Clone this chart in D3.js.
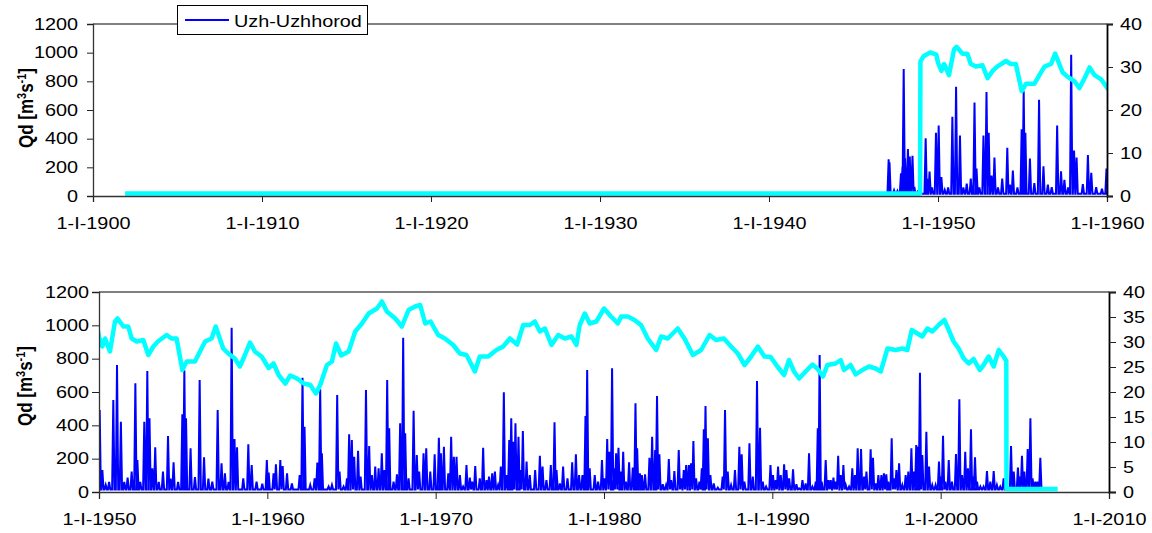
<!DOCTYPE html>
<html>
<head>
<meta charset="utf-8">
<script src="https://cdn.jsdelivr.net/npm/d3@7/dist/d3.min.js"></script>
<style>
  body { margin: 0; background: #fff; }
  svg text { font-family: "Liberation Sans", Arial, sans-serif; fill: #000; }
</style>
</head>
<body>
<svg id="chart" width="1152" height="533"></svg>
<script>
// daily discharge peaks: [decimal year, Qd m3/s]
let flow1940s = [[1947.08,256],[1947.13,235],[1947.4,40],[1947.6,35],[1947.81,159],[1947.9,205],[1947.97,886],
  [1948.05,263],[1948.22,328],[1948.28,205],[1948.33,275],[1948.49,280],[1948.6,63],[1948.8,30],
  [1949.27,403],[1949.35,120],[1949.5,170],[1949.65,60],[1949.88,442]];
let flow1950s = [[1950.04,492],[1950.2,132],[1950.4,42],[1950.6,60],[1950.85,552],[1951.07,762],[1951.3,422],
  [1951.5,60],[1951.7,86],[1951.94,122],[1952.16,652],[1952.28,192],[1952.45,60],[1952.69,422],[1952.87,726],
  [1953.0,442],[1953.17,142],[1953.34,268],[1953.55,60],[1953.8,122],[1954.1,336],[1954.25,80],[1954.43,178],
  [1954.7,60],[1954.95,466],[1955.07,730],[1955.17,442],[1955.44,262],[1955.7,90],[1955.98,672],[1956.24,208],
  [1956.5,80],[1956.73,62],[1957.05,492],[1957.28,172],[1957.48,112],[1957.7,60],[1957.88,986],[1958.05,318],
  [1958.2,268],[1958.57,82],[1958.87,286],[1959.07,162],[1959.36,62],[1959.7,50],[1959.97,192]];
let flow1960s = [[1960.08,116],[1960.37,112],[1960.51,166],[1960.77,192],[1960.91,156],[1961.17,112],[1961.46,52],
  [1961.92,102],[1962.09,686],[1962.21,392],[1962.55,42],[1962.81,82],[1962.97,176],[1963.14,616],[1963.24,232],
  [1963.64,32],[1963.84,42],[1964.15,582],[1964.29,122],[1964.53,32],[1964.73,82],[1964.86,346],[1965.02,312],
  [1965.16,212],[1965.39,248],[1965.54,92],[1965.86,612],[1966.05,276],[1966.21,102],[1966.41,152],[1966.61,142],
  [1966.8,232],[1966.96,132],[1967.12,672],[1967.24,382],[1967.5,62],[1967.7,106],[1967.89,412],[1968.07,926],
  [1968.19,352],[1968.39,82],[1968.69,488],[1968.88,222],[1969.02,122],[1969.28,232],[1969.44,262],[1969.68,122],
  [1969.94,226]];
let flow1970s = [[1970.19,326],[1970.31,232],[1970.49,272],[1970.75,112],[1970.92,332],[1971.08,212],[1971.24,212],
  [1971.44,102],[1971.63,32],[1971.83,162],[1972.03,86],[1972.17,62],[1972.35,156],[1972.62,82],[1972.82,266],
  [1973.02,72],[1973.17,92],[1973.36,112],[1973.52,122],[1973.71,42],[1973.87,152],[1974.05,598],[1974.21,102],
  [1974.37,312],[1974.49,442],[1974.6,302],[1974.74,412],[1974.92,332],[1975.04,132],[1975.18,366],[1975.4,182],
  [1975.59,102],[1975.91,132],[1976.19,218],[1976.35,152],[1976.58,72],[1976.84,162],[1977.06,418],[1977.18,132],
  [1977.38,52],[1977.57,152],[1977.83,82],[1978.11,178],[1978.33,226],[1978.52,102],[1978.72,102],[1978.9,456],
  [1979.0,732],[1979.15,142],[1979.45,102],[1979.65,62],[1979.88,192]];
let flow1980s = [[1980.03,82],[1980.19,318],[1980.33,242],[1980.48,742],[1980.58,142],[1980.72,232],[1980.86,266],
  [1980.98,122],[1981.14,242],[1981.3,62],[1981.49,178],[1981.71,146],[1981.87,532],[1981.97,262],[1982.13,112],
  [1982.25,102],[1982.44,106],[1982.7,206],[1982.86,332],[1983.04,252],[1983.15,576],[1983.29,226],[1983.49,46],
  [1983.69,42],[1983.85,198],[1983.99,72],[1984.18,126],[1984.44,252],[1984.58,82],[1984.74,132],[1984.88,162],
  [1985.04,162],[1985.17,172],[1985.31,306],[1985.47,82],[1985.67,62],[1985.81,142],[1985.93,376],[1986.03,516],
  [1986.17,322],[1986.32,102],[1986.52,52],[1986.76,26],[1987.05,92],[1987.19,492],[1987.35,122],[1987.55,42],
  [1987.78,132],[1988.04,272],[1988.18,226],[1988.34,62],[1988.64,292],[1988.84,92],[1989.09,666],[1989.27,386],
  [1989.43,62],[1989.63,32],[1989.89,162]];
let flow1990s = [[1990.04,102],[1990.2,72],[1990.34,152],[1990.5,102],[1990.7,166],[1990.84,132],[1991.0,82],
  [1991.23,136],[1991.43,46],[1991.59,22],[1991.79,72],[1991.98,52],[1992.18,232],[1992.38,32],[1992.58,62],
  [1992.7,382],[1992.81,822],[1992.93,62],[1993.17,192],[1993.33,72],[1993.47,72],[1993.63,86],[1993.77,62],
  [1993.91,218],[1994.06,102],[1994.22,162],[1994.36,42],[1994.56,32],[1994.75,142],[1994.91,102],[1995.07,262],
  [1995.27,258],[1995.45,92],[1995.59,122],[1995.84,256],[1995.98,206],[1996.14,52],[1996.3,102],[1996.48,102],
  [1996.63,112],[1996.77,106],[1996.89,62],[1997.09,322],[1997.23,82],[1997.37,132],[1997.53,172],[1997.72,42],
  [1997.92,102],[1998.08,122],[1998.26,262],[1998.42,122],[1998.55,282],[1998.67,272],[1998.77,716],[1998.91,222],
  [1999.15,362],[1999.31,152],[1999.5,42],[1999.7,42],[1999.9,182]];
let flow2000s = [[2000.02,92],[2000.14,338],[2000.28,62],[2000.48,192],[2000.67,62],[2000.91,228],[2001.11,556],
  [2001.27,102],[2001.46,242],[2001.62,142],[2001.8,376],[2001.92,92],[2002.04,208],[2002.16,62],[2002.36,32],
  [2002.55,32],[2002.75,126],[2002.95,62],[2003.15,126],[2003.34,42],[2003.54,32],[2003.74,82],[2004.18,276],
  [2004.34,122],[2004.59,146],[2004.69,92],[2004.83,218],[2004.97,122],[2005.17,258],[2005.33,442],[2005.46,82],
  [2005.62,62],[2005.76,62],[2005.92,206]];

// smoothed series on the right axis: [decimal year, value]
let smoothEarly = [[1901.9,0.6],[1948.94,0.6],[1948.96,31.3],[1949.15,32.5],[1949.54,33.4],[1949.9,32.9]];
let smooth1950s = [[1950.0,31.0],[1950.2,29.1],[1950.36,30.7],[1950.65,28.1],[1950.95,34.1],[1951.1,34.7],
  [1951.45,33.1],[1951.74,33.1],[1951.94,30.7],[1952.24,30.1],[1952.63,30.4],[1952.93,27.4],[1953.23,29.1],
  [1953.5,30.1],[1954.02,31.4],[1954.3,30.7],[1954.61,30.7],[1954.95,24.4],[1955.21,26.1],[1955.7,26.1],
  [1956.0,28.1],[1956.3,30.1],[1956.69,30.7],[1956.93,33.1],[1957.38,28.7],[1957.68,27.7],[1958.07,26.7],
  [1958.37,25.1],[1958.67,27.4],[1958.97,29.9],[1959.26,28.1],[1959.66,27.1]];
let smooth1960s = [[1960.08,24.8],[1960.37,25.7],[1960.67,23.4],[1961.07,21.7],[1961.36,23.3],[1961.76,22.7],
  [1962.16,21.7],[1962.55,21.4],[1962.89,19.7],[1963.14,21.4],[1963.54,25.4],[1963.84,26.1],[1964.08,29.7],
  [1964.39,27.3],[1964.83,28.1],[1965.22,32.1],[1965.62,33.7],[1966.02,35.7],[1966.51,36.7],[1966.81,38.1],
  [1967.1,36.1],[1967.6,34.7],[1967.99,33.1],[1968.39,36.4],[1968.78,37.1],[1969.08,37.4],[1969.38,33.7],
  [1969.7,34.1]];
let smooth1970s = [[1970.15,31.4],[1970.55,30.7],[1971.04,29.4],[1971.44,27.7],[1971.83,27.4],[1972.33,24.1],
  [1972.62,27.1],[1973.12,27.1],[1973.61,28.4],[1974.01,29.1],[1974.41,30.7],[1974.84,29.5],[1975.2,33.4],
  [1975.6,33.4],[1975.89,34.1],[1976.19,32.1],[1976.49,32.7],[1976.88,29.4],[1977.28,31.4],[1977.67,30.7],
  [1978.07,31.1],[1978.36,29.4],[1978.56,33.4],[1978.86,35.7],[1979.15,33.7],[1979.55,34.1]];
let smooth1980s = [[1980.0,36.7],[1980.42,35.1],[1980.82,33.7],[1981.02,35.1],[1981.41,35.1],[1981.81,34.4],
  [1982.2,33.4],[1982.6,30.7],[1983.1,28.4],[1983.39,31.1],[1983.79,30.7],[1984.38,32.7],[1984.78,30.7],
  [1985.28,27.4],[1985.77,28.4],[1986.27,31.4],[1986.66,30.4],[1987.12,30.7],[1987.55,29.1],[1987.95,27.7],
  [1988.35,25.4],[1988.74,27.1],[1989.14,29.1],[1989.53,27.1]];
let smooth1990s = [[1989.9,27.0],[1990.3,25.1],[1990.7,23.4],[1990.99,26.4],[1991.29,24.1],[1991.59,22.7],
  [1991.98,24.1],[1992.38,25.5],[1992.67,24.7],[1993.01,23.1],[1993.27,25.4],[1993.76,25.7],[1994.06,26.4],
  [1994.26,24.4],[1994.65,25.4],[1994.95,23.5],[1995.35,24.4],[1995.74,25.1],[1996.14,24.7],[1996.44,24.1],
  [1996.84,28.7],[1997.33,28.4],[1997.73,28.7],[1998.02,28.4],[1998.28,32.4],[1998.62,31.7],[1998.91,31.1],
  [1999.21,32.7],[1999.51,32.1],[1999.88,33.4]];
let smooth2000s = [[2000.22,34.4],[2000.48,32.4],[2000.77,30.1],[2001.07,28.7],[2001.37,26.7],[2001.66,25.7],
  [2001.96,26.6],[2002.32,24.4],[2002.55,25.4],[2002.85,27.1],[2003.15,25.1],[2003.45,28.4],[2003.74,27.1],
  [2003.9,26.2],[2003.91,0.6],[2006.95,0.6]];

let qTicks = [0, 200, 400, 600, 800, 1000, 1200];
let topRightTicks = [0, 10, 20, 30, 40];
let bottomRightTicks = [0, 5, 10, 15, 20, 25, 30, 35, 40];
let topYearTicks = [1900, 1910, 1920, 1930, 1940, 1950, 1960];
let bottomYearTicks = [1950, 1960, 1970, 1980, 1990, 2000, 2010];
let legendLabel = "Uzh-Uzhhorod";

let flowPeaks = [].concat(flow1940s, flow1950s, flow1960s, flow1970s, flow1980s, flow1990s, flow2000s);
let smoothSeries = [].concat(smoothEarly, smooth1950s, smooth1960s, smooth1970s, smooth1980s, smooth1990s, smooth2000s);

// the original picture is stretched sideways, text too
const SX = 1.24;
const FONT = 16;

let svg = d3.select("#chart");

let panels = [
  {id: "top", left: 93, right: 1107, top: 24, bottom: 196, years: [1900, 1960], yearTicks: topYearTicks,
   rightTicks: topRightTicks, tickLen: 6, leftPad: 9, titleX: 33, titleY: 108},
  {id: "bottom", left: 99, right: 1109, top: 292, bottom: 492, years: [1950, 2010], yearTicks: bottomYearTicks,
   rightTicks: bottomRightTicks, tickLen: 7, leftPad: 3, titleX: 32, titleY: 386}
];

var stretch = function(sel){
  sel.selectAll("text").each(function(){
    let t = d3.select(this);
    let x = +t.attr("x") || 0;
    t.attr("x", x / SX).attr("transform", "scale(" + SX + ",1)");
  });
};

var DrawPanel = function(p){
  let xScale = d3.scaleLinear().domain(p.years).range([p.left, p.right]);
  let qScale = d3.scaleLinear().domain([0, 1200]).range([p.bottom, p.top]);
  let rScale = d3.scaleLinear().domain([0, 40]).range([p.bottom, p.top]);

  let g = svg.append("g").attr("id", "panel-" + p.id);

  g.append("clipPath").attr("id", "clip-" + p.id)
    .append("rect")
    .attr("x", p.left).attr("y", p.top - 2)
    .attr("width", p.right - p.left).attr("height", p.bottom - p.top + 2);

  // plot area frame (gray, like Excel)
  g.append("line")
    .attr("x1", p.left).attr("x2", p.right)
    .attr("y1", p.top).attr("y2", p.top)
    .attr("stroke", "#808080").attr("stroke-width", 2);

  let plot = g.append("g").attr("clip-path", "url(#clip-" + p.id + ")");

  // blue daily series drawn as narrow spikes from a low base
  let pts = [];
  flowPeaks.forEach(function(d){
    pts.push([d[0] - 0.07, 15]);
    pts.push(d);
    pts.push([d[0] + 0.07, 15]);
  });
  let flowLine = d3.line()
    .x(function(d){ return xScale(d[0]); })
    .y(function(d){ return qScale(d[1]); });
  plot.append("path")
    .datum(pts)
    .attr("d", flowLine)
    .attr("fill", "none")
    .attr("stroke", "#0000ff")
    .attr("stroke-width", 2)
    .attr("stroke-linejoin", "miter");

  let smoothLine = d3.line()
    .x(function(d){ return xScale(d[0]); })
    .y(function(d){ return rScale(d[1]); });
  plot.append("path")
    .datum(smoothSeries)
    .attr("d", smoothLine)
    .attr("fill", "none")
    .attr("stroke", "#00ffff")
    .attr("stroke-width", 4.5)
    .attr("stroke-linejoin", "round");

  // axes
  let xAxis = d3.axisBottom(xScale).tickValues(p.yearTicks)
    .tickSize(p.tickLen).tickPadding(33 - 11.4 - p.tickLen)
    .tickFormat(function(d){ return "1-I-" + d; });
  let xGroup = g.append("g").attr("transform", "translate(0," + p.bottom + ")").call(xAxis);

  let yAxis = d3.axisLeft(qScale).tickValues(qTicks).tickSize(p.tickLen).tickPadding(p.leftPad)
    .tickFormat(d3.format("d"));
  let yGroup = g.append("g").attr("transform", "translate(" + p.left + ",0)").call(yAxis);

  let rAxis = d3.axisRight(rScale).tickValues(p.rightTicks).tickSize(p.tickLen).tickPadding(7)
    .tickFormat(d3.format("d"));
  let rGroup = g.append("g").attr("transform", "translate(" + p.right + ",0)").call(rAxis);

  [xGroup, yGroup, rGroup].forEach(function(ax){
    ax.attr("font-size", FONT).attr("font-family", null);
    ax.select(".domain").attr("stroke", "#333").attr("stroke-width", 1.3);
    ax.selectAll(".tick line").attr("stroke", "#222");
    stretch(ax);
  });
  rGroup.select(".domain").attr("stroke", "#000").attr("stroke-width", 1.8);

  // y title with real superscripts
  let title = g.append("text")
    .attr("transform", "translate(" + p.titleX + "," + p.titleY + ") scale(" + SX + ",1) rotate(-90)")
    .attr("text-anchor", "middle")
    .attr("font-size", 17)
    .attr("font-weight", "bold");
  title.append("tspan").text("Qd [m");
  title.append("tspan").attr("dy", -6).attr("font-size", 11).text("3");
  title.append("tspan").attr("dy", 6).text("s");
  title.append("tspan").attr("dy", -6).attr("font-size", 11).text("-1");
  title.append("tspan").attr("dy", 6).text("]");
};

panels.forEach(DrawPanel);

// legend
let legend = svg.append("g").attr("id", "legend");
legend.append("rect")
  .attr("x", 177.5).attr("y", 5.5).attr("width", 190).attr("height", 29)
  .attr("fill", "#fff").attr("stroke", "#000").attr("stroke-width", 1);
legend.append("line")
  .attr("x1", 185).attr("x2", 229).attr("y1", 20).attr("y2", 20)
  .attr("stroke", "#0000ff").attr("stroke-width", 2);
legend.append("text")
  .attr("transform", "translate(234,26.5) scale(" + SX + ",1)")
  .attr("font-size", FONT)
  .text(legendLabel);
</script>
</body>
</html>
